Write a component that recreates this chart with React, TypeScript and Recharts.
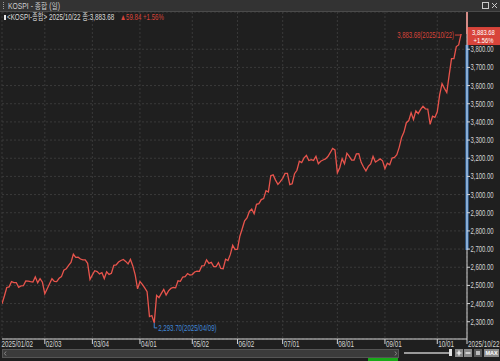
import React from 'react';
import { ComposedChart, Line, XAxis, YAxis, CartesianGrid, ReferenceLine, ReferenceDot } from 'recharts';

// ---- data ----
const tradingDays: string[] = [
  '01/02','01/03','01/06','01/07','01/08','01/09','01/10','01/13','01/14','01/15','01/16','01/17','01/20','01/21','01/22','01/23','01/24','01/31',
  '02/03','02/04','02/05','02/06','02/07','02/10','02/11','02/12','02/13','02/14','02/17','02/18','02/19','02/20','02/21','02/24','02/25','02/26','02/27','02/28',
  '03/04','03/05','03/06','03/07','03/10','03/11','03/12','03/13','03/14','03/17','03/18','03/19','03/20','03/21','03/24','03/25','03/26','03/27','03/28','03/31',
  '04/01','04/02','04/03','04/04','04/07','04/08','04/09','04/10','04/11','04/14','04/15','04/16','04/17','04/18','04/21','04/22','04/23','04/24','04/25','04/28','04/29','04/30',
  '05/02','05/07','05/08','05/09','05/12','05/13','05/14','05/15','05/16','05/19','05/20','05/21','05/22','05/23','05/26','05/27','05/28','05/29','05/30',
  '06/02','06/04','06/05','06/09','06/10','06/11','06/12','06/13','06/16','06/17','06/18','06/19','06/20','06/23','06/24','06/25','06/26','06/27','06/30',
  '07/01','07/02','07/03','07/04','07/07','07/08','07/09','07/10','07/11','07/14','07/15','07/16','07/17','07/18','07/21','07/22','07/23','07/24','07/25','07/28','07/29','07/30','07/31',
  '08/01','08/04','08/05','08/06','08/07','08/08','08/11','08/12','08/13','08/14','08/18','08/19','08/20','08/21','08/22','08/25','08/26','08/27','08/28','08/29',
  '09/01','09/02','09/03','09/04','09/05','09/08','09/09','09/10','09/11','09/12','09/15','09/16','09/17','09/18','09/19','09/22','09/23','09/24','09/25','09/26','09/29','09/30',
  '10/01','10/02','10/10','10/13','10/14','10/15','10/16','10/17','10/20','10/21','10/22',
];

const closes: number[] = [
  2398.94, 2441.92, 2488.64, 2492.10, 2521.05, 2515.78, 2515.78, 2489.56, 2497.42, 2498.17, 2524.07, 2523.55, 2520.32, 2518.03, 2547.06, 2515.00, 2536.80, 2517.37,
  2453.95, 2481.69, 2509.27, 2536.75, 2521.92, 2521.27, 2539.05, 2548.39, 2583.17, 2591.05, 2610.42, 2626.81, 2671.52, 2654.58, 2655.00, 2645.27, 2641.09, 2641.09, 2621.75, 2532.78,
  2558.13, 2580.80, 2576.16, 2563.48, 2570.39, 2537.60, 2574.82, 2560.82, 2566.67, 2610.69, 2612.34, 2628.62, 2637.10, 2643.13, 2632.21, 2618.07, 2643.12, 2607.15, 2557.98, 2481.12,
  2521.39, 2505.86, 2486.70, 2465.42, 2328.20, 2334.23, 2293.70, 2445.06, 2432.72, 2455.89, 2477.41, 2447.15, 2470.10, 2483.42, 2488.42, 2486.64, 2525.56, 2522.33, 2546.30, 2548.54, 2565.42, 2556.61,
  2559.79, 2573.80, 2578.01, 2577.27, 2607.33, 2608.42, 2640.57, 2621.02, 2626.87, 2603.42, 2603.20, 2625.58, 2593.67, 2592.09, 2644.40, 2637.22, 2670.82, 2720.64, 2697.67,
  2698.97, 2770.84, 2812.05, 2855.77, 2871.85, 2907.04, 2920.03, 2894.62, 2946.66, 2950.30, 2972.29, 2977.74, 3021.84, 3014.47, 3103.64, 3108.35, 3079.56, 3055.94, 3071.70,
  3089.65, 3116.27, 3116.31, 3054.28, 3059.47, 3114.95, 3133.74, 3183.23, 3175.77, 3202.03, 3215.28, 3187.42, 3192.29, 3188.07, 3210.81, 3169.94, 3183.77, 3190.45, 3196.05, 3209.52, 3230.57, 3254.47, 3245.44,
  3119.41, 3147.75, 3198.00, 3169.57, 3227.68, 3210.01, 3189.91, 3189.91, 3224.37, 3225.66, 3177.28, 3151.56, 3130.09, 3155.04, 3168.73, 3209.86, 3179.36, 3187.14, 3196.32, 3186.01,
  3142.93, 3172.35, 3164.21, 3200.83, 3205.12, 3219.59, 3260.05, 3314.53, 3344.20, 3395.54, 3407.31, 3449.62, 3413.27, 3461.30, 3445.24, 3468.65, 3486.19, 3472.14, 3471.11, 3386.05, 3431.21, 3424.60,
  3455.83, 3549.21, 3610.60, 3584.55, 3561.81, 3657.28, 3748.37, 3748.89, 3814.69, 3823.84, 3883.68,
];

const monthTickDays: string[] = ['01/02', '02/03', '03/04', '04/01', '05/02', '06/02', '07/01', '08/01', '09/01', '10/01'];
const yTicks: number[] = [2300, 2400, 2500, 2600, 2700, 2800, 2900, 3000, 3100, 3200, 3300, 3400, 3500, 3600, 3700, 3800];
const yDomain: [number, number] = [2205, 4005];
const prevClose = 3823.84;
const blueBandLow = 2695;
const changeText = '▲59.84';
const changePct = '+1.56%';
const year = '2025';
const title = 'KOSPI - 종합 (일)';
const seriesName = '<KOSPI-종합>';

// ---- derived ----
const rows = tradingDays.map((d, i) => ({ i, date: d, close: closes[i] }));
const lastIdx = rows.length - 1;
const lastClose = closes[lastIdx];
const endPad = 2.5;
const xMax = lastIdx + endPad;
const xTicks = [...monthTickDays.map((d) => tradingDays.indexOf(d)), xMax];
let minIdx = 0;
closes.forEach((v, i) => { if (v < closes[minIdx]) minIdx = i; });
const minClose = closes[minIdx];

const FONT = '"Liberation Sans", "Noto Sans CJK KR", sans-serif';
const fmt = (v: number) => v.toLocaleString('en-US', { minimumFractionDigits: 2, maximumFractionDigits: 2 });

const BG = '#1f1f1f';
const LINE = '#e8544c';
const RED = '#d8443a';
const BLUE = '#3f86d6';
const AXIS = '#d4d4d4';
const GRID = '#3a3a3a';

// narrow text: the original uses a condensed bitmap font
function T(props: any) {
  const { children, x, y, size = 8.5, sx = 0.7, ...rest } = props;
  return (
    <text transform={`translate(${x},${y}) scale(${sx},1)`} x={0} y={0} fontSize={size} fontFamily={FONT} {...rest}>{String(children)}</text>
  );
}

function XTick(props: any) {
  const { x, y, payload } = props;
  const idx = payload.value as number;
  let label: string;
  if (idx === xMax) label = `${year}/${tradingDays[lastIdx]}`;
  else if (idx === 0) label = `${year}/${tradingDays[0]}`;
  else label = tradingDays[idx];
  return (
    <g>
      {idx !== 0 && <line x1={x} x2={x} y1={y} y2={y + 5} stroke={AXIS} strokeWidth={1} />}
      <T x={idx === 0 ? x - 0.5 : x + 1} y={y + 8} sx={0.74} fill={AXIS}>{label}</T>
    </g>
  );
}

function YTick(props: any) {
  const { x, y, payload } = props;
  return (
    <g>
      <line x1={x} x2={x + 3} y1={y} y2={y} stroke={AXIS} strokeWidth={1} />
      <T x={x + 3.5} y={y + 3} fill={AXIS}>{fmt(payload.value)}</T>
    </g>
  );
}

function MaxMark(props: any) {
  const { cx, cy } = props;
  if (cx == null) return null;
  const s = `${fmt(lastClose)}(${year}/${tradingDays[lastIdx]})`;
  return (
    <g>
      <polyline points={`${cx},${cy} ${cx},${cy + 1} ${cx - 6},${cy + 1}`} fill="none" stroke={RED} strokeWidth={1} />
      <T x={cx - 7} y={cy + 4} fill={RED} textAnchor="end">{s}</T>
    </g>
  );
}

function MinMark(props: any) {
  const { cx, cy } = props;
  if (cx == null) return null;
  return (
    <g>
      <polyline points={`${cx},${cy} ${cx},${cy + 5} ${cx + 3},${cy + 5}`} fill="none" stroke={BLUE} strokeWidth={1} />
      <T x={cx + 4} y={cy + 8} fill={BLUE} sx={0.72}>{`${fmt(minClose)}(${year}/${tradingDays[minIdx]})`}</T>
    </g>
  );
}

function PriceTag(props: any) {
  const vb = props.viewBox || {};
  const x0 = vb.x + vb.width;
  const cy = vb.y;
  return (
    <g>
      <rect x={x0} y={cy - 7} width={33} height={18} fill={RED} />
      <T x={x0 + 16.5} y={cy + 0.5} size={7.5} sx={0.78} fill="#ffffff" textAnchor="middle">{fmt(lastClose)}</T>
      <T x={x0 + 16.5} y={cy + 9} size={7.5} sx={0.78} fill="#ffffff" textAnchor="middle">{changePct}</T>
    </g>
  );
}

function Header() {
  const info = `${seriesName} ${year}/${tradingDays[lastIdx]} 종:${fmt(lastClose)}`;
  return (
    <svg width={500} height={24} style={{ position: 'absolute', left: 0, top: 0 }}>
      <rect x={0} y={0} width={500} height={11} fill="#333333" />
      <line x1={0} x2={500} y1={11.5} y2={11.5} stroke="#4a4a4a" />
      <line x1={3.5} x2={3.5} y1={2} y2={9} stroke="#9a9a9a" strokeDasharray="1 1" />
      <T x={8} y={8.5} sx={0.8} fill="#cfcfcf">{title}</T>
      <rect x={482.5} y={2.5} width={6} height={6} fill="none" stroke="#c8c8c8" />
      <path d="M492,3 L497,8 M497,3 L492,8" stroke="#c8c8c8" />
      <rect x={4} y={15} width={2} height={5} fill="#e8e8e8" />
      <T x={7} y={20} size={9} sx={0.7} fill="#dcdcdc">{info}</T>
      <T x={120} y={20} sx={0.72} fill={RED}>{changeText}</T>
      <T x={143} y={20} sx={0.72} fill={RED}>{changePct}</T>
    </svg>
  );
}

function Footer() {
  return (
    <svg width={500} height={13} style={{ position: 'absolute', left: 0, top: 348 }}>
      <rect x={2.5} y={1.5} width={396} height={8} fill="#3b3b3b" stroke="#555" />
      <path d="M6,3.5 L4.5,5.5 L6,7.5" fill="none" stroke="#888" />
      <path d="M395,3.5 L396.5,5.5 L395,7.5" fill="none" stroke="#888" />
      <rect x={404} y={4} width={47} height={2} fill="#9a9a9a" />
      <rect x={449} y={1} width={3} height={7} fill="#e0e0e0" />
      <rect x={455} y={1} width={8} height={8} fill="#8a8a8a" />
      <path d="M459,2.5 L459,7.5 M456.5,5 L461.5,5" stroke="#fff" strokeWidth={1.2} />
      <rect x={464} y={1} width={8} height={8} fill="#8a8a8a" />
      <path d="M465.5,5 L470.5,5" stroke="#fff" strokeWidth={1.2} />
      <rect x={474} y={1} width={8} height={8} fill="#5a5a5a" />
      <rect x={476} y={3} width={4} height={4} fill="#bdbdbd" />
      <rect x={484} y={1} width={15} height={8} fill="#8a8a8a" />
      <text x={491.5} y={7} fontSize={5.5} fontFamily={FONT} fontWeight="bold" fill="#fff" textAnchor="middle">MAX</text>
      <rect x={368} y={10} width={30} height={3} fill="#19a819" />
    </svg>
  );
}

export default function App() {
  return (
    <div style={{ position: 'absolute', left: 0, top: 0, width: 500, height: 361, background: BG, overflow: 'hidden' }}>
      <div style={{ position: 'absolute', left: 0, top: 0 }}>
        <ComposedChart width={500} height={361} data={rows} margin={{ top: 12, right: 0, bottom: 0, left: 2 }}>
          <CartesianGrid stroke={GRID} strokeDasharray="2 2" horizontal={true} vertical={true} />
          <XAxis
            type="number"
            dataKey="i"
            domain={[0, xMax]}
            ticks={xTicks}
            interval={0}
            height={22}
            axisLine={{ stroke: AXIS }}
            tickLine={false}
            tickSize={0}
            tickMargin={0}
            tick={<XTick />}
            allowDataOverflow
          />
          <YAxis
            orientation="right"
            type="number"
            domain={yDomain}
            ticks={yTicks}
            interval={0}
            width={33}
            axisLine={{ stroke: AXIS }}
            tickLine={false}
            tickSize={0}
            tickMargin={0}
            tick={<YTick />}
            allowDataOverflow
          />
          <ReferenceLine segment={[{ x: xMax, y: yDomain[1] }, { x: xMax, y: lastClose }]} stroke={RED} strokeWidth={2} ifOverflow="visible" />
          <ReferenceLine segment={[{ x: xMax, y: prevClose }, { x: xMax, y: blueBandLow }]} stroke={BLUE} strokeWidth={3} ifOverflow="visible" />
          <Line type="linear" dataKey="close" stroke={LINE} strokeWidth={1.3} dot={false} isAnimationActive={false} />
          <ReferenceDot x={lastIdx} y={lastClose} shape={<MaxMark />} ifOverflow="visible" />
          <ReferenceDot x={minIdx} y={minClose} shape={<MinMark />} ifOverflow="visible" />
          <ReferenceLine y={lastClose} stroke="none" label={<PriceTag />} ifOverflow="visible" />
        </ComposedChart>
      </div>
      <Header />
      <Footer />
    </div>
  );
}
